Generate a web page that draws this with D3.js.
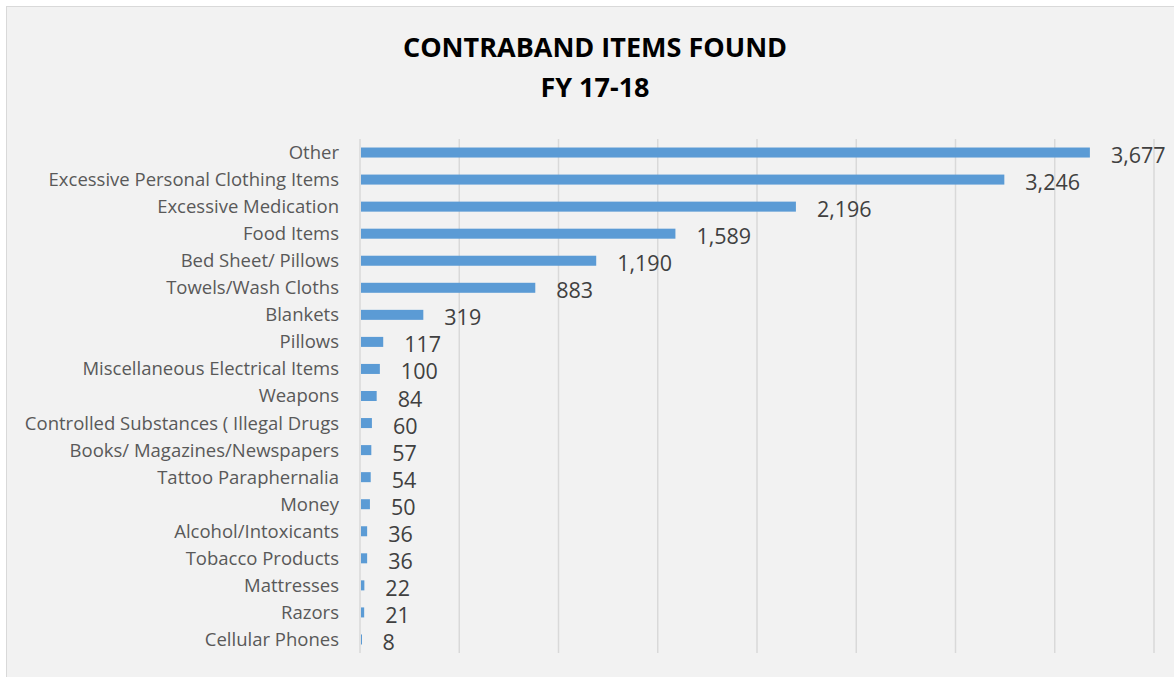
<!DOCTYPE html>
<html>
<head>
<meta charset="utf-8">
<script src="https://cdn.jsdelivr.net/npm/d3@7"></script>
<style>
  body { margin: 0; background: #fff; }
  text { font-family: "Open Sans", Lato, sans-serif; }
</style>
</head>
<body>
<div id="chart"></div>
<script>
const width = 1174, height = 677

const categories = [
  "Other", "Excessive Personal Clothing Items", "Excessive Medication", "Food Items",
  "Bed Sheet/ Pillows", "Towels/Wash Cloths ", "Blankets", "Pillows",
  "Miscellaneous Electrical Items", "Weapons", "Controlled Substances ( Illegal Drugs",
  "Books/ Magazines/Newspapers", "Tattoo Paraphernalia", "Money", "Alcohol/Intoxicants",
  "Tobacco Products", "Mattresses", "Razors", "Cellular Phones"
]
const counts = [3677, 3246, 2196, 1589, 1190, 883, 319, 117, 100, 84, 60, 57, 54, 50, 36, 36, 22, 21, 8]
const gridTicks = [0, 500, 1000, 1500, 2000, 2500, 3000, 3500, 4000]
const titleLines = ["CONTRABAND ITEMS FOUND", "FY 17-18"]

const data = categories.map((c, i) => ({ name: c, value: counts[i] }))

const svg = d3.select('#chart')
    .append('svg')
    .attr('width', width)
    .attr('height', height)

// chart area background + border
svg.append('rect')
    .attr('x', 6.5).attr('y', 6.5)
    .attr('width', width + 10).attr('height', height + 10)
    .attr('fill', '#f2f2f2')
    .attr('stroke', '#d9d9d9')

const x = d3.scaleLinear()
    .domain([0, 4000])
    .range([360, 1154])

const y = d3.scaleBand()
    .domain(categories)
    .range([139, 653])
    .paddingInner(0.63)
    .paddingOuter(0.315)

// gridlines
svg.append('g')
    .selectAll('line')
    .data(gridTicks)
    .join('line')
    .attr('x1', d => x(d)).attr('x2', d => x(d))
    .attr('y1', 139).attr('y2', 653)
    .attr('stroke', '#d9d9d9')
    .attr('stroke-width', 1.5)

// bars
svg.append('g')
    .selectAll('rect')
    .data(data)
    .join('rect')
    .attr('x', x(0) + 1)
    .attr('y', d => y(d.name))
    .attr('width', d => Math.max(x(d.value) - x(0) - 1, 1))
    .attr('height', y.bandwidth())
    .attr('fill', '#5b9bd5')

// category labels
svg.append('g')
    .selectAll('text')
    .data(data)
    .join('text')
    .attr('x', 339)
    .attr('y', d => y(d.name) + y.bandwidth() / 2)
    .attr('dy', '0.35em')
    .attr('text-anchor', 'end')
    .attr('font-size', 18.5)
    .attr('fill', '#595959')
    .text(d => d.name)

// value labels
svg.append('g')
    .selectAll('text')
    .data(data)
    .join('text')
    .attr('x', d => x(d.value) + 21)
    .attr('y', d => y(d.name) + y.bandwidth() / 2 + 3)
    .attr('dy', '0.35em')
    .attr('font-size', 21.5)
    .attr('fill', '#404040')
    .text(d => d3.format(',')(d.value))

// title
svg.append('text')
    .attr('x', 595)
    .attr('text-anchor', 'middle')
    .attr('font-size', 27)
    .attr('font-weight', 'bold')
    .attr('fill', '#000')
    .selectAll('tspan')
    .data(titleLines)
    .join('tspan')
    .attr('x', 595)
    .attr('y', (d, i) => 57 + i * 40)
    .text(d => d)
</script>
</body>
</html>
